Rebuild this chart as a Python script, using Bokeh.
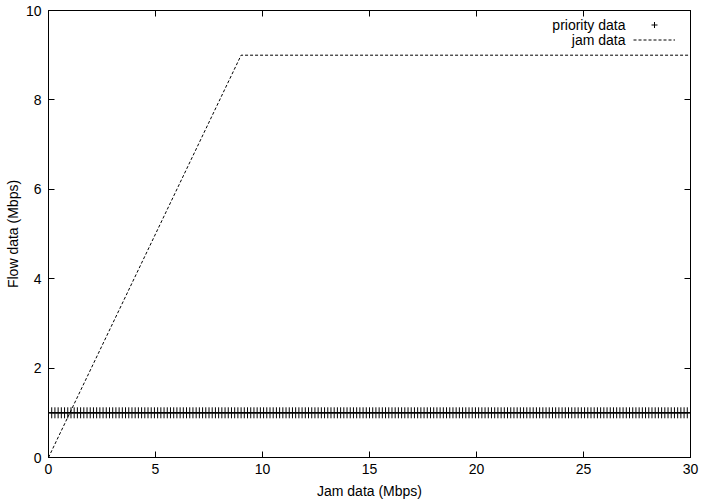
from bokeh.plotting import figure
from bokeh.models import (FixedTicker, LinearAxis, Legend, LegendItem, Label, Range1d)
from bokeh.embed import file_html
from bokeh.resources import INLINE

# ---- data ----
priority_x = [
    0, 0.15, 0.3, 0.45, 0.6, 0.75, 0.9, 1.05, 1.2, 1.35, 1.5, 1.65, 1.8, 1.95, 2.1, 2.25, 2.4, 2.55, 2.7, 2.85,
    3, 3.15, 3.3, 3.45, 3.6, 3.75, 3.9, 4.05, 4.2, 4.35, 4.5, 4.65, 4.8, 4.95, 5.1, 5.25, 5.4, 5.55, 5.7, 5.85,
    6, 6.15, 6.3, 6.45, 6.6, 6.75, 6.9, 7.05, 7.2, 7.35, 7.5, 7.65, 7.8, 7.95, 8.1, 8.25, 8.4, 8.55, 8.7, 8.85,
    9, 9.15, 9.3, 9.45, 9.6, 9.75, 9.9, 10.05, 10.2, 10.35, 10.5, 10.65, 10.8, 10.95, 11.1, 11.25, 11.4, 11.55, 11.7, 11.85,
    12, 12.15, 12.3, 12.45, 12.6, 12.75, 12.9, 13.05, 13.2, 13.35, 13.5, 13.65, 13.8, 13.95, 14.1, 14.25, 14.4, 14.55, 14.7, 14.85,
    15, 15.15, 15.3, 15.45, 15.6, 15.75, 15.9, 16.05, 16.2, 16.35, 16.5, 16.65, 16.8, 16.95, 17.1, 17.25, 17.4, 17.55, 17.7, 17.85,
    18, 18.15, 18.3, 18.45, 18.6, 18.75, 18.9, 19.05, 19.2, 19.35, 19.5, 19.65, 19.8, 19.95, 20.1, 20.25, 20.4, 20.55, 20.7, 20.85,
    21, 21.15, 21.3, 21.45, 21.6, 21.75, 21.9, 22.05, 22.2, 22.35, 22.5, 22.65, 22.8, 22.95, 23.1, 23.25, 23.4, 23.55, 23.7, 23.85,
    24, 24.15, 24.3, 24.45, 24.6, 24.75, 24.9, 25.05, 25.2, 25.35, 25.5, 25.65, 25.8, 25.95, 26.1, 26.25, 26.4, 26.55, 26.7, 26.85,
    27, 27.15, 27.3, 27.45, 27.6, 27.75, 27.9, 28.05, 28.2, 28.35, 28.5, 28.65, 28.8, 28.95, 29.1, 29.25, 29.4, 29.55, 29.7, 29.85,
    30,
]
priority_y = [1.0] * len(priority_x)

jam_x = [0, 9, 30]
jam_y = [0, 9, 9]

x_ticks = [0, 5, 10, 15, 20, 25, 30]
y_ticks = [0, 2, 4, 6, 8, 10]

x_label = "Jam data (Mbps)"
y_label = "Flow data (Mbps)"
series_names = ["priority data", "jam data"]

FONT = "Liberation Sans"
FS = "14px"

p = figure(width=704, height=504, output_backend="svg", toolbar_location=None,
           x_range=Range1d(0, 30), y_range=Range1d(0, 10),
           min_border_left=48, min_border_right=14, min_border_top=10, min_border_bottom=47,
           x_axis_label=x_label, y_axis_label=y_label)

p.grid.visible = False
p.outline_line_color = "black"
p.outline_line_width = 1
p.background_fill_color = "white"
p.border_fill_color = "white"

r_pri = p.scatter(priority_x, priority_y, marker="cross", size=11,
                  line_color="black", line_width=1)
r_jam = p.line(jam_x, jam_y, line_color="black", line_width=1, line_dash="3 2")

def style_axis(ax, ticks, show_labels=True):
    ax.ticker = FixedTicker(ticks=ticks)
    ax.minor_tick_line_color = None
    ax.major_tick_in = 6
    ax.major_tick_out = 0
    ax.major_tick_line_color = "black"
    ax.axis_line_color = "black"
    ax.major_label_text_font = FONT
    ax.major_label_text_font_size = FS
    ax.major_label_text_color = "black"
    ax.axis_label_text_font = FONT
    ax.axis_label_text_font_size = FS
    ax.axis_label_text_font_style = "normal"
    ax.axis_label_text_color = "black"
    if not show_labels:
        ax.major_label_overrides = {t: "" for t in ticks}
        ax.major_label_standoff = 0

xa = p.xaxis[0]
ya = p.yaxis[0]
style_axis(xa, x_ticks)
style_axis(ya, y_ticks)
xa.major_label_standoff = 6
xa.axis_label_standoff = 6
ya.major_label_standoff = 7
ya.axis_label_standoff = 2

top_ax = LinearAxis()
style_axis(top_ax, x_ticks, show_labels=False)
p.add_layout(top_ax, "above")
right_ax = LinearAxis()
style_axis(right_ax, y_ticks, show_labels=False)
p.add_layout(right_ax, "right")

legend = Legend(items=[LegendItem(label=" ", renderers=[r_pri]),
                       LegendItem(label=" ", renderers=[r_jam])],
                location=(585, 410), orientation="vertical",
                glyph_width=42, glyph_height=15, label_height=15, label_width=0,
                label_standoff=0, spacing=0, padding=0, margin=0,
                border_line_color=None, background_fill_alpha=0,
                label_text_font=FONT, label_text_font_size=FS)
p.add_layout(legend, "center")

for name, yy in zip(series_names, [433, 418]):
    p.add_layout(Label(x=577, y=yy, x_units="screen", y_units="screen", text=name,
                       text_align="right", text_baseline="middle",
                       text_font=FONT, text_font_size=FS, text_color="black"))

open("out.html", "w").write(file_html(p, INLINE))
